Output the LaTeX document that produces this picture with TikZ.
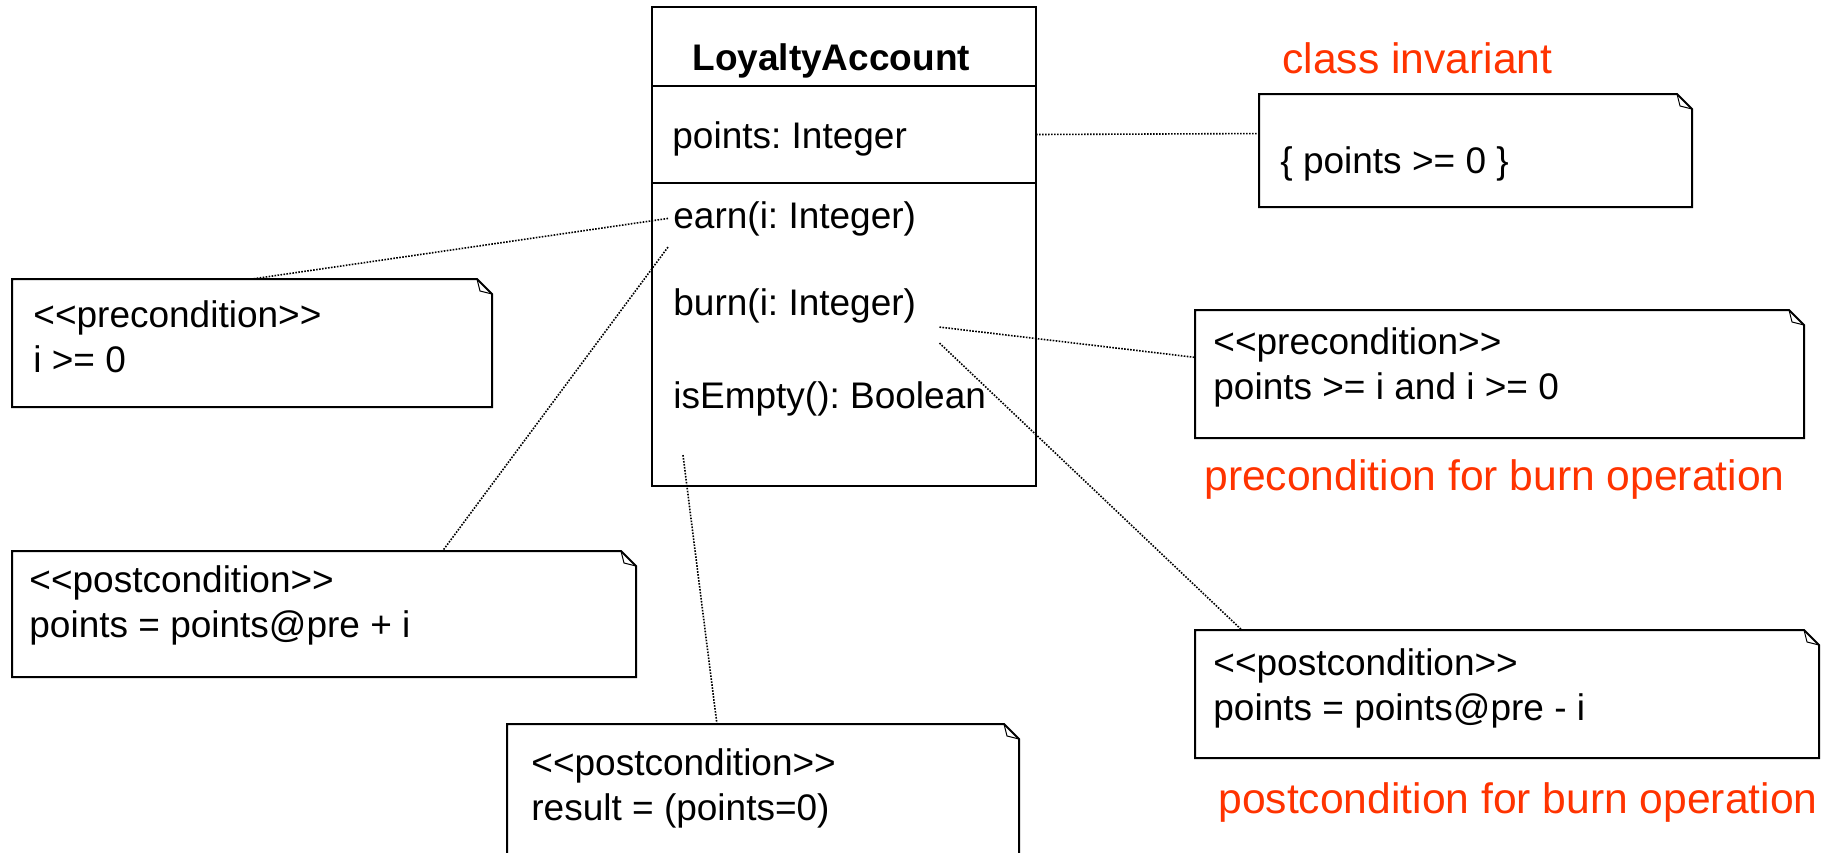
\documentclass[tikz,border=0pt]{standalone}
\usepackage{fontspec}
\setmainfont{Liberation Sans}[Ligatures=TeXOff]
\usepackage{tikz}
\usetikzlibrary{positioning,calc}
\usepackage{xcolor}
\definecolor{notered}{RGB}{255,51,0}
\frenchspacing

\newcommand{\umlfont}{\fontsize{18.5}{22.5}\selectfont}
\newcommand{\hintfont}{\fontsize{21.3}{25}\selectfont}

% note outline with folded corner
\newcommand{\drawnote}[1]{%
  \draw[line width=1pt] (#1.south west) -- (#1.north west) -- ([xshift=-7.5pt]#1.north east)
    -- ([yshift=-7.5pt]#1.north east) -- (#1.south east) -- cycle;
  \draw[line width=0.5pt] ([xshift=-7.5pt]#1.north east) -- ([xshift=-6pt,yshift=-6pt]#1.north east)
    -- ([yshift=-7.5pt]#1.north east);
}

\tikzset{
  compart/.style={draw, line width=1pt, minimum width=192pt, inner sep=0pt, outer sep=0pt},
  member/.style={anchor=base west, inner sep=0pt, font=\umlfont},
  notebox/.style 2 args={inner sep=0pt, outer sep=0pt, minimum width=#1, minimum height=#2},
  notetext/.style={anchor=north west, inner sep=0pt, align=left, font=\umlfont},
  hint/.style={anchor=base west, inner sep=0pt, text=notered, font=\hintfont},
  link/.style={line width=0.8pt, dash pattern=on 0.8pt off 0.7pt},
}

\begin{document}
\begin{tikzpicture}[x=0.5pt,y=-0.5pt]
\useasboundingbox (0,0) rectangle (1837,852);

% class
\node[compart, minimum height=39.5pt] (cls-name) at (844,46.5) {};
\node[compart, minimum height=48.5pt, below=0pt of cls-name] (cls-attr) {};
\node[compart, minimum height=151.5pt, below=0pt of cls-attr] (cls-ops) {};

\node[member, font=\umlfont\bfseries] (cls-title) at (692,70) {LoyaltyAccount};
\node[member] (attr-points) at (672,148) {points: Integer};
\node[member] (op-earn) at (673,228) {earn(i: Integer)};
\node[member] (op-burn) at (673,315) {burn(i: Integer)};
\node[member] (op-empty) at (673,408) {isEmpty(): Boolean};

% notes
\node[notebox={216.5pt}{56.5pt}] (inv) at (1475.5,150.5) {};
\node[notebox={240pt}{64pt}] (pre-earn) at (252,343) {};
\node[notebox={304.5pt}{64pt}] (pre-burn) at (1499.5,374) {};
\node[notebox={312pt}{63pt}] (post-earn) at (324,614) {};
\node[notebox={312pt}{64pt}] (post-burn) at (1507,694) {};
\node[notebox={256pt}{66pt}] (post-empty) at (763,790) {};
\foreach \n in {inv,pre-earn,pre-burn,post-earn,post-burn,post-empty} {\drawnote{\n}}

\node[notetext] (inv-txt) at ([xshift=10.5pt,yshift=-26pt]inv.north west) {\{ points >= 0 \}};
\node[notetext] (pre-earn-txt) at ([xshift=10.5pt,yshift=-10.5pt]pre-earn.north west) {<<precondition>>\\i >= 0};
\node[notetext] (pre-burn-txt) at ([xshift=9pt,yshift=-8.5pt]pre-burn.north west) {<<precondition>>\\points >= i and i >= 0};
\node[notetext] (post-earn-txt) at ([xshift=8.5pt,yshift=-7pt]post-earn.north west) {<<postcondition>>\\points = points@pre + i};
\node[notetext] (post-burn-txt) at ([xshift=9pt,yshift=-9pt]post-burn.north west) {<<postcondition>>\\points = points@pre - i};
\node[notetext] (post-empty-txt) at ([xshift=12pt,yshift=-12pt]post-empty.north west) {<<postcondition>>\\result = (points=0)};

% links
\coordinate (earn-a) at ([xshift=-2.5pt]op-earn.west);
\coordinate (earn-b) at ([shift={(-2.5pt,-5.5pt)}]op-earn.south west);
\coordinate (burn-a) at ([shift={(11.5pt,-2pt)}]op-burn.south east);
\coordinate (burn-b) at ([shift={(11.5pt,-10pt)}]op-burn.south east);
\coordinate (empty-a) at ([shift={(5pt,-19.5pt)}]op-empty.south west);

\draw[link] (cls-attr.east) -- ($(inv.north west)!.35!(inv.south west)$);
\draw[link] (earn-a) -- (pre-earn.north);
\draw[link] (earn-b) -- ($(post-earn.north west)!.69!(post-earn.north east)$);
\draw[link] (burn-a) -- ($(pre-burn.north west)!.37!(pre-burn.south west)$);
\draw[link] (burn-b) -- ($(post-burn.north west)!.075!(post-burn.north east)$);
\draw[link] (empty-a) -- ($(post-empty.north west)!.41!(post-empty.north east)$);

% texte
\node[hint] (inv-hint) at (1282,73) {class invariant};
\node[hint] (pre-hint) at (1204,490) {precondition for burn operation};
\node[hint] (post-hint) at (1218,813) {postcondition for burn operation};

\end{tikzpicture}
\end{document}
